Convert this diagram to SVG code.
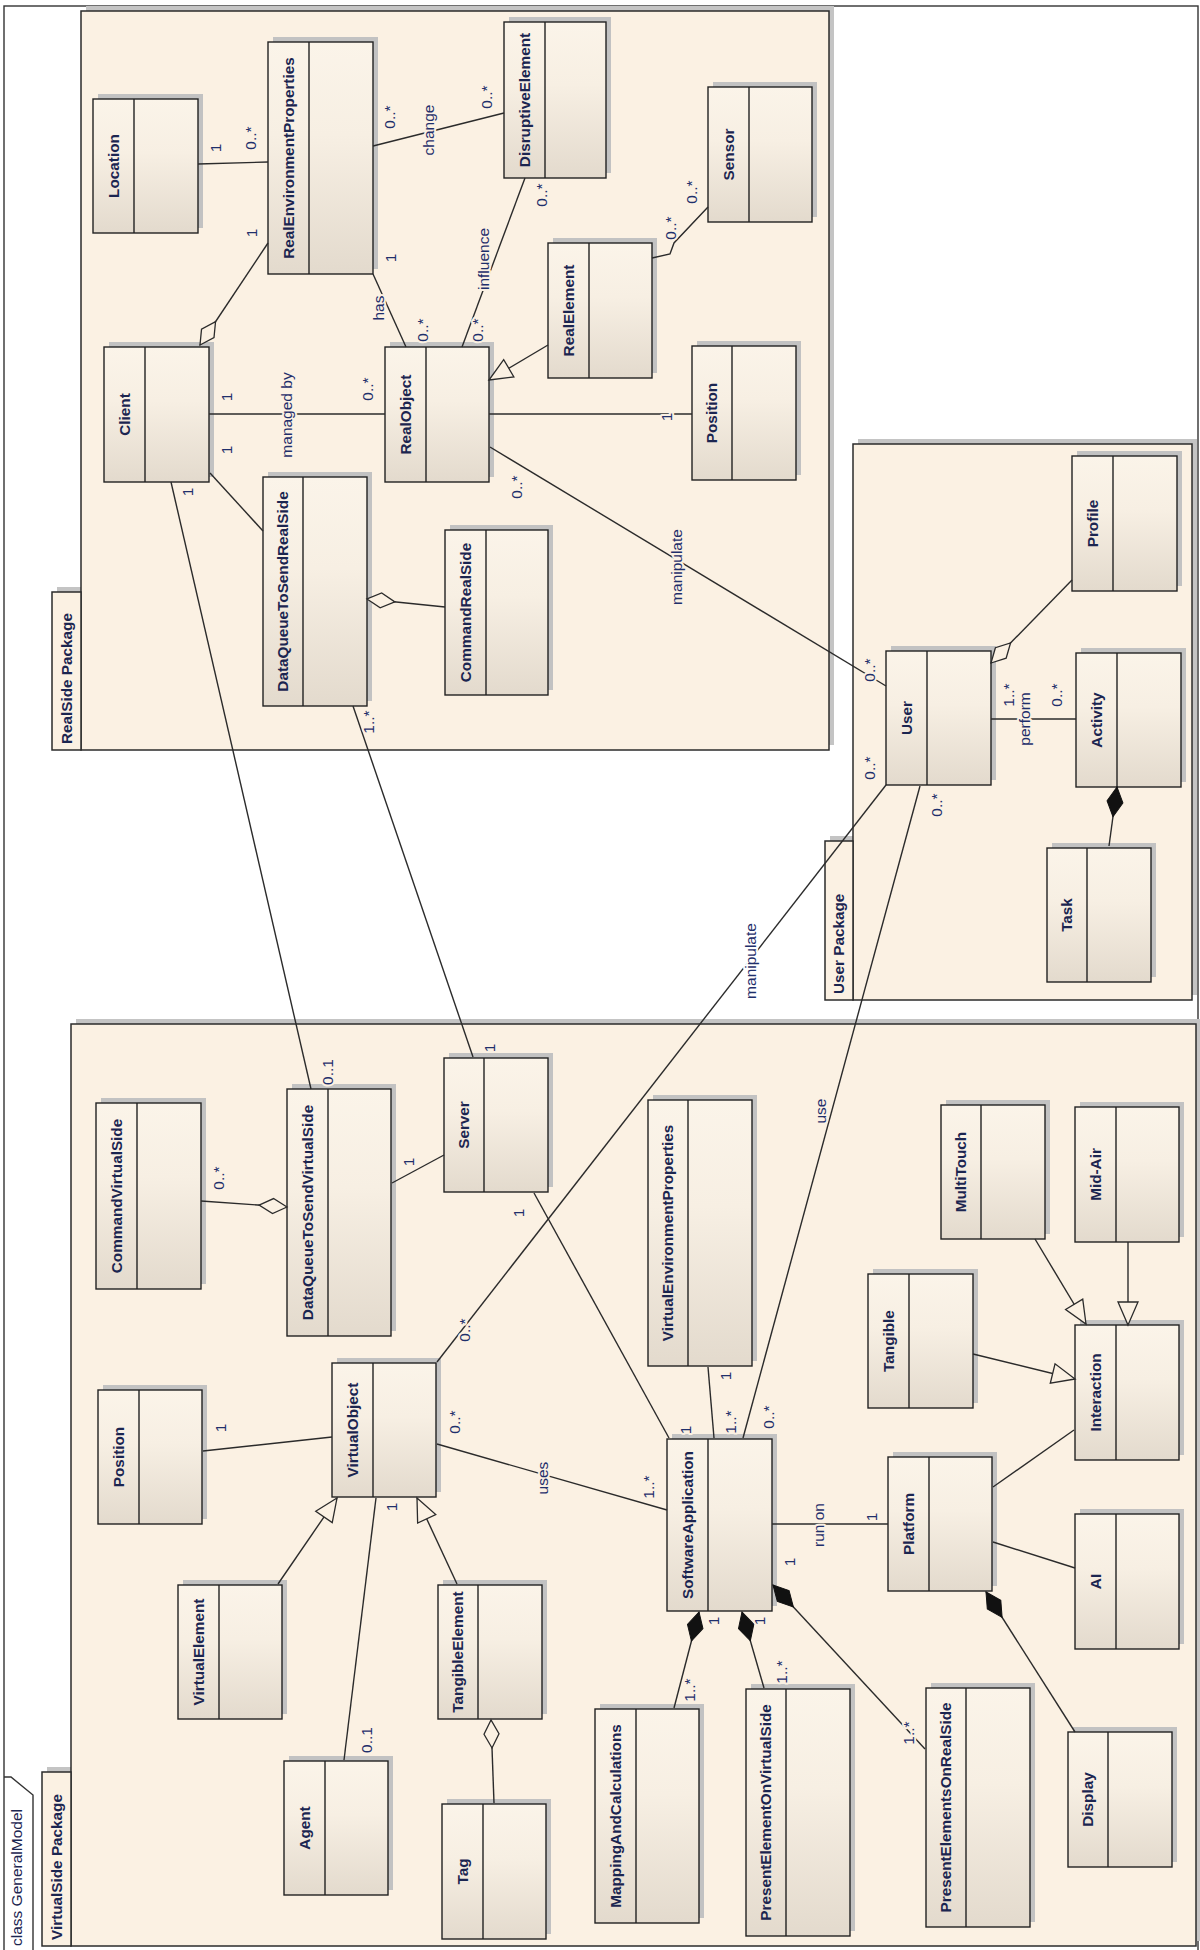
<svg xmlns="http://www.w3.org/2000/svg" width="1200" height="1950" viewBox="0 0 1200 1950">
<defs>
<linearGradient id="gb" x1="0" y1="0" x2="0" y2="1">
<stop offset="0" stop-color="#fbf4e9"/><stop offset="0.4" stop-color="#f7efe3"/><stop offset="1" stop-color="#e3dacd"/>
</linearGradient>
<marker id="gen" markerUnits="userSpaceOnUse" markerWidth="30" markerHeight="30" refX="0" refY="0" orient="auto" style="overflow:visible"><path d="M0,0 L-23,-10 L-23,10 Z" fill="#fbf1e3" stroke="#2b2b2b" stroke-width="1.3"/></marker>
<marker id="agg" markerUnits="userSpaceOnUse" markerWidth="30" markerHeight="30" refX="0" refY="0" orient="auto" style="overflow:visible"><path d="M0,0 L-14,-7.5 L-28,0 L-14,7.5 Z" fill="#fbf1e3" stroke="#2b2b2b" stroke-width="1.3"/></marker>
<marker id="comp" markerUnits="userSpaceOnUse" markerWidth="30" markerHeight="30" refX="0" refY="0" orient="auto" style="overflow:visible"><path d="M0,0 L-15,-8 L-30,0 L-15,8 Z" fill="#111" stroke="#111" stroke-width="1"/></marker>
</defs>
<style>
.frame{fill:#fff;stroke:#333;stroke-width:1.4}
.pk{fill:#fbf1e3;stroke:#2b2b2b;stroke-width:1.5}
.psh{fill:#c4c4c4}
.sh{fill:#c2c2c2}
.bx{fill:url(#gb);stroke:#222;stroke-width:1.4}
.dv{stroke:#222;stroke-width:1.4}
.nm{font-family:"Liberation Sans",Arial,sans-serif;font-size:15.3px;font-weight:bold;fill:#1b2550;text-anchor:middle}
.pt{font-family:"Liberation Sans",Arial,sans-serif;font-size:15.3px;font-weight:bold;fill:#1b2550;text-anchor:start}
.ft{font-family:"Liberation Sans",Arial,sans-serif;font-size:15.5px;fill:#1b2550;text-anchor:start}
.lb{font-family:"Liberation Sans",Arial,sans-serif;font-size:15.5px;fill:#1f2f6b;text-anchor:middle;stroke:#fbf1e3;stroke-width:4;stroke-linejoin:round;paint-order:stroke}
.lbw{stroke:#ffffff}
.cn{fill:none;stroke:#2b2b2b;stroke-width:1.4}
</style>

<!-- outer frame -->
<g id="frame">
<rect class="frame" x="4" y="6" width="1194" height="1960"/>
<polyline points="4,1777 11,1777 33,1795 33,1960" fill="none" stroke="#333" stroke-width="1.4"/>
<text class="ft" transform="translate(17,1946) rotate(-90)" dy="0.35em">class GeneralModel</text>
</g>

<!-- packages -->
<g id="pkg-realside">
<rect class="psh" x="86" y="6" width="748" height="739"/>
<rect class="psh" x="57" y="587" width="29" height="158"/>
<rect class="pk" x="81" y="11" width="748" height="739"/>
<rect class="pk" x="52" y="592" width="29" height="158"/>
<text class="pt" transform="translate(67,744) rotate(-90)" dy="0.35em">RealSide Package</text>
</g>
<g id="pkg-user">
<rect class="psh" x="858" y="439" width="339" height="556"/>
<rect class="psh" x="830" y="836" width="28" height="159"/>
<rect class="pk" x="853" y="444" width="339" height="556"/>
<rect class="pk" x="825" y="841" width="28" height="159"/>
<text class="pt" transform="translate(839,994) rotate(-90)" dy="0.35em">User Package</text>
</g>
<g id="pkg-virtualside">
<rect class="psh" x="76" y="1019" width="1125" height="922"/>
<rect class="psh" x="47" y="1767" width="29" height="174"/>
<rect class="pk" x="71" y="1024" width="1125" height="922"/>
<rect class="pk" x="42" y="1772" width="29" height="174"/>
<text class="pt" transform="translate(57,1940) rotate(-90)" dy="0.35em">VirtualSide Package</text>
</g>

<!-- nodes -->
<g id="n-location"><rect class="sh" x="98" y="94" width="105" height="134"/><rect class="bx" x="93" y="99" width="105" height="134"/><line class="dv" x1="134" y1="99" x2="134" y2="233"/><text class="nm" transform="translate(113.5,166) rotate(-90)" dy="0.35em">Location</text></g>
<g id="n-realenvironmentproperties"><rect class="sh" x="273" y="37" width="105" height="232"/><rect class="bx" x="268" y="42" width="105" height="232"/><line class="dv" x1="309" y1="42" x2="309" y2="274"/><text class="nm" transform="translate(288.5,158) rotate(-90)" dy="0.35em">RealEnvironmentProperties</text></g>
<g id="n-disruptiveelement"><rect class="sh" x="509" y="17" width="102" height="156"/><rect class="bx" x="504" y="22" width="102" height="156"/><line class="dv" x1="545" y1="22" x2="545" y2="178"/><text class="nm" transform="translate(524.5,100) rotate(-90)" dy="0.35em">DisruptiveElement</text></g>
<g id="n-sensor"><rect class="sh" x="713" y="82" width="104" height="135"/><rect class="bx" x="708" y="87" width="104" height="135"/><line class="dv" x1="749" y1="87" x2="749" y2="222"/><text class="nm" transform="translate(728.5,154.5) rotate(-90)" dy="0.35em">Sensor</text></g>
<g id="n-realelement"><rect class="sh" x="553" y="238" width="104" height="135"/><rect class="bx" x="548" y="243" width="104" height="135"/><line class="dv" x1="589" y1="243" x2="589" y2="378"/><text class="nm" transform="translate(568.5,310.5) rotate(-90)" dy="0.35em">RealElement</text></g>
<g id="n-position-real"><rect class="sh" x="697" y="341" width="104" height="134"/><rect class="bx" x="692" y="346" width="104" height="134"/><line class="dv" x1="732" y1="346" x2="732" y2="480"/><text class="nm" transform="translate(712,413) rotate(-90)" dy="0.35em">Position</text></g>
<g id="n-realobject"><rect class="sh" x="390" y="342" width="104" height="135"/><rect class="bx" x="385" y="347" width="104" height="135"/><line class="dv" x1="426" y1="347" x2="426" y2="482"/><text class="nm" transform="translate(405.5,414.5) rotate(-90)" dy="0.35em">RealObject</text></g>
<g id="n-client"><rect class="sh" x="109" y="342" width="105" height="135"/><rect class="bx" x="104" y="347" width="105" height="135"/><line class="dv" x1="145" y1="347" x2="145" y2="482"/><text class="nm" transform="translate(124.5,414.5) rotate(-90)" dy="0.35em">Client</text></g>
<g id="n-dataqueuetosendrealside"><rect class="sh" x="268" y="472" width="104" height="229"/><rect class="bx" x="263" y="477" width="104" height="229"/><line class="dv" x1="303" y1="477" x2="303" y2="706"/><text class="nm" transform="translate(283,591.5) rotate(-90)" dy="0.35em">DataQueueToSendRealSide</text></g>
<g id="n-commandrealside"><rect class="sh" x="450" y="525" width="103" height="165"/><rect class="bx" x="445" y="530" width="103" height="165"/><line class="dv" x1="486" y1="530" x2="486" y2="695"/><text class="nm" transform="translate(465.5,612.5) rotate(-90)" dy="0.35em">CommandRealSide</text></g>

<g id="n-user"><rect class="sh" x="891" y="646" width="105" height="134"/><rect class="bx" x="886" y="651" width="105" height="134"/><line class="dv" x1="927" y1="651" x2="927" y2="785"/><text class="nm" transform="translate(906.5,718) rotate(-90)" dy="0.35em">User</text></g>
<g id="n-profile"><rect class="sh" x="1077" y="451" width="105" height="135"/><rect class="bx" x="1072" y="456" width="105" height="135"/><line class="dv" x1="1113" y1="456" x2="1113" y2="591"/><text class="nm" transform="translate(1092.5,523.5) rotate(-90)" dy="0.35em">Profile</text></g>
<g id="n-activity"><rect class="sh" x="1081" y="648" width="105" height="134"/><rect class="bx" x="1076" y="653" width="105" height="134"/><line class="dv" x1="1117" y1="653" x2="1117" y2="787"/><text class="nm" transform="translate(1096.5,720) rotate(-90)" dy="0.35em">Activity</text></g>
<g id="n-task"><rect class="sh" x="1052" y="843" width="104" height="134"/><rect class="bx" x="1047" y="848" width="104" height="134"/><line class="dv" x1="1087" y1="848" x2="1087" y2="982"/><text class="nm" transform="translate(1067,915) rotate(-90)" dy="0.35em">Task</text></g>

<g id="n-commandvirtualside"><rect class="sh" x="101" y="1098" width="105" height="186"/><rect class="bx" x="96" y="1103" width="105" height="186"/><line class="dv" x1="137" y1="1103" x2="137" y2="1289"/><text class="nm" transform="translate(116.5,1196) rotate(-90)" dy="0.35em">CommandVirtualSide</text></g>
<g id="n-dataqueuetosendvirtualside"><rect class="sh" x="292" y="1084" width="104" height="247"/><rect class="bx" x="287" y="1089" width="104" height="247"/><line class="dv" x1="328" y1="1089" x2="328" y2="1336"/><text class="nm" transform="translate(307.5,1212.5) rotate(-90)" dy="0.35em">DataQueueToSendVirtualSide</text></g>
<g id="n-server"><rect class="sh" x="449" y="1053" width="104" height="134"/><rect class="bx" x="444" y="1058" width="104" height="134"/><line class="dv" x1="484" y1="1058" x2="484" y2="1192"/><text class="nm" transform="translate(464,1125) rotate(-90)" dy="0.35em">Server</text></g>
<g id="n-position-virtual"><rect class="sh" x="103" y="1385" width="104" height="134"/><rect class="bx" x="98" y="1390" width="104" height="134"/><line class="dv" x1="139" y1="1390" x2="139" y2="1524"/><text class="nm" transform="translate(118.5,1457) rotate(-90)" dy="0.35em">Position</text></g>
<g id="n-virtualobject"><rect class="sh" x="337" y="1358" width="104" height="134"/><rect class="bx" x="332" y="1363" width="104" height="134"/><line class="dv" x1="373" y1="1363" x2="373" y2="1497"/><text class="nm" transform="translate(352.5,1430) rotate(-90)" dy="0.35em">VirtualObject</text></g>
<g id="n-virtualelement"><rect class="sh" x="183" y="1580" width="104" height="134"/><rect class="bx" x="178" y="1585" width="104" height="134"/><line class="dv" x1="219" y1="1585" x2="219" y2="1719"/><text class="nm" transform="translate(198.5,1652) rotate(-90)" dy="0.35em">VirtualElement</text></g>
<g id="n-agent"><rect class="sh" x="289" y="1756" width="104" height="134"/><rect class="bx" x="284" y="1761" width="104" height="134"/><line class="dv" x1="325" y1="1761" x2="325" y2="1895"/><text class="nm" transform="translate(304.5,1828) rotate(-90)" dy="0.35em">Agent</text></g>
<g id="n-tangibleelement"><rect class="sh" x="443" y="1580" width="104" height="134"/><rect class="bx" x="438" y="1585" width="104" height="134"/><line class="dv" x1="478" y1="1585" x2="478" y2="1719"/><text class="nm" transform="translate(458,1652) rotate(-90)" dy="0.35em">TangibleElement</text></g>
<g id="n-tag"><rect class="sh" x="447" y="1799" width="104" height="135"/><rect class="bx" x="442" y="1804" width="104" height="135"/><line class="dv" x1="483" y1="1804" x2="483" y2="1939"/><text class="nm" transform="translate(462.5,1871.5) rotate(-90)" dy="0.35em">Tag</text></g>
<g id="n-virtualenvironmentproperties"><rect class="sh" x="653" y="1095" width="104" height="266"/><rect class="bx" x="648" y="1100" width="104" height="266"/><line class="dv" x1="688" y1="1100" x2="688" y2="1366"/><text class="nm" transform="translate(668,1233) rotate(-90)" dy="0.35em">VirtualEnvironmentProperties</text></g>
<g id="n-multitouch"><rect class="sh" x="946" y="1100" width="104" height="134"/><rect class="bx" x="941" y="1105" width="104" height="134"/><line class="dv" x1="981" y1="1105" x2="981" y2="1239"/><text class="nm" transform="translate(961,1172) rotate(-90)" dy="0.35em">MultiTouch</text></g>
<g id="n-midair"><rect class="sh" x="1080" y="1102" width="104" height="135"/><rect class="bx" x="1075" y="1107" width="104" height="135"/><line class="dv" x1="1116" y1="1107" x2="1116" y2="1242"/><text class="nm" transform="translate(1095.5,1174.5) rotate(-90)" dy="0.35em">Mid-Air</text></g>
<g id="n-tangible"><rect class="sh" x="873" y="1269" width="105" height="134"/><rect class="bx" x="868" y="1274" width="105" height="134"/><line class="dv" x1="909" y1="1274" x2="909" y2="1408"/><text class="nm" transform="translate(888.5,1341) rotate(-90)" dy="0.35em">Tangible</text></g>
<g id="n-interaction"><rect class="sh" x="1080" y="1320" width="104" height="135"/><rect class="bx" x="1075" y="1325" width="104" height="135"/><line class="dv" x1="1116" y1="1325" x2="1116" y2="1460"/><text class="nm" transform="translate(1095.5,1392.5) rotate(-90)" dy="0.35em">Interaction</text></g>
<g id="n-softwareapplication"><rect class="sh" x="672" y="1434" width="105" height="172"/><rect class="bx" x="667" y="1439" width="105" height="172"/><line class="dv" x1="708" y1="1439" x2="708" y2="1611"/><text class="nm" transform="translate(687.5,1525) rotate(-90)" dy="0.35em">SoftwareApplication</text></g>
<g id="n-platform"><rect class="sh" x="893" y="1452" width="104" height="134"/><rect class="bx" x="888" y="1457" width="104" height="134"/><line class="dv" x1="929" y1="1457" x2="929" y2="1591"/><text class="nm" transform="translate(908.5,1524) rotate(-90)" dy="0.35em">Platform</text></g>
<g id="n-ai"><rect class="sh" x="1080" y="1509" width="104" height="135"/><rect class="bx" x="1075" y="1514" width="104" height="135"/><line class="dv" x1="1116" y1="1514" x2="1116" y2="1649"/><text class="nm" transform="translate(1095.5,1581.5) rotate(-90)" dy="0.35em">AI</text></g>
<g id="n-mappingandcalculations"><rect class="sh" x="600" y="1704" width="104" height="214"/><rect class="bx" x="595" y="1709" width="104" height="214"/><line class="dv" x1="636" y1="1709" x2="636" y2="1923"/><text class="nm" transform="translate(615.5,1816) rotate(-90)" dy="0.35em">MappingAndCalculations</text></g>
<g id="n-presentelementonvirtualside"><rect class="sh" x="751" y="1684" width="104" height="247"/><rect class="bx" x="746" y="1689" width="104" height="247"/><line class="dv" x1="786" y1="1689" x2="786" y2="1936"/><text class="nm" transform="translate(766,1812.5) rotate(-90)" dy="0.35em">PresentElementOnVirtualSide</text></g>
<g id="n-presentelementsonrealside"><rect class="sh" x="931" y="1683" width="104" height="239"/><rect class="bx" x="926" y="1688" width="104" height="239"/><line class="dv" x1="966" y1="1688" x2="966" y2="1927"/><text class="nm" transform="translate(946,1807.5) rotate(-90)" dy="0.35em">PresentElementsOnRealSide</text></g>
<g id="n-display"><rect class="sh" x="1073" y="1727" width="104" height="135"/><rect class="bx" x="1068" y="1732" width="104" height="135"/><line class="dv" x1="1108" y1="1732" x2="1108" y2="1867"/><text class="nm" transform="translate(1088,1799.5) rotate(-90)" dy="0.35em">Display</text></g>

<!-- connectors -->
<g id="connectors" class="cn">
<line x1="198" y1="164" x2="268" y2="162"/>
<line x1="268" y1="243" x2="200" y2="345" marker-end="url(#agg)"/>
<line x1="373" y1="146" x2="504" y2="113"/>
<line x1="373" y1="274" x2="406" y2="347"/>
<line x1="525" y1="178" x2="462" y2="347"/>
<line x1="209" y1="414" x2="385" y2="414"/>
<line x1="210" y1="473" x2="263" y2="531"/>
<line x1="548" y1="345" x2="489" y2="380" marker-end="url(#gen)"/>
<polyline points="652,258 670,254 674,243 708,207"/>
<line x1="489" y1="414" x2="692" y2="414"/>
<line x1="490" y1="447" x2="886" y2="686"/>
<line x1="445" y1="607" x2="367" y2="599" marker-end="url(#agg)"/>
<line x1="1072" y1="580" x2="991" y2="663" marker-end="url(#agg)"/>
<line x1="991" y1="719" x2="1076" y2="719"/>
<line x1="1109" y1="846" x2="1117" y2="787" marker-end="url(#comp)"/>
<line x1="171" y1="482" x2="311" y2="1089"/>
<line x1="353" y1="706" x2="473" y2="1057"/>
<line x1="886" y1="785" x2="437" y2="1362"/>
<line x1="920" y1="786" x2="743" y2="1438"/>
<line x1="201" y1="1201" x2="287" y2="1207" marker-end="url(#agg)"/>
<line x1="392" y1="1183" x2="444" y2="1155"/>
<line x1="534" y1="1193" x2="669" y2="1438"/>
<line x1="203" y1="1451" x2="332" y2="1437"/>
<line x1="437" y1="1444" x2="667" y2="1510"/>
<line x1="278" y1="1584" x2="337" y2="1498" marker-end="url(#gen)"/>
<line x1="344" y1="1760" x2="376" y2="1498"/>
<line x1="457" y1="1584" x2="417" y2="1498" marker-end="url(#gen)"/>
<line x1="494" y1="1803" x2="491" y2="1720" marker-end="url(#agg)"/>
<line x1="708" y1="1367" x2="714" y2="1438"/>
<line x1="772" y1="1524" x2="888" y2="1524"/>
<line x1="674" y1="1708" x2="699" y2="1612" marker-end="url(#comp)"/>
<line x1="764" y1="1688" x2="742" y2="1612" marker-end="url(#comp)"/>
<line x1="925" y1="1749" x2="773" y2="1585" marker-end="url(#comp)"/>
<line x1="1075" y1="1732" x2="986" y2="1592" marker-end="url(#comp)"/>
<line x1="993" y1="1542" x2="1075" y2="1568"/>
<line x1="993" y1="1487" x2="1074" y2="1430"/>
<line x1="1035" y1="1239" x2="1086" y2="1324" marker-end="url(#gen)"/>
<line x1="1128" y1="1242" x2="1128" y2="1325" marker-end="url(#gen)"/>
<line x1="973" y1="1354" x2="1075" y2="1379" marker-end="url(#gen)"/>
</g>

<!-- connector labels -->
<g id="connector-labels">
<text class="lb" transform="translate(216,148) rotate(-90)" dy="0.35em">1</text>
<text class="lb" transform="translate(251,138) rotate(-90)" dy="0.35em">0..*</text>
<text class="lb" transform="translate(252,233) rotate(-90)" dy="0.35em">1</text>
<text class="lb" transform="translate(390,117) rotate(-90)" dy="0.35em">0..*</text>
<text class="lb" transform="translate(429,130) rotate(-90)" dy="0.35em">change</text>
<text class="lb" transform="translate(487,97) rotate(-90)" dy="0.35em">0..*</text>
<text class="lb" transform="translate(391,258) rotate(-90)" dy="0.35em">1</text>
<text class="lb" transform="translate(379,308) rotate(-90)" dy="0.35em">has</text>
<text class="lb" transform="translate(423,330) rotate(-90)" dy="0.35em">0..*</text>
<text class="lb" transform="translate(542,195) rotate(-90)" dy="0.35em">0..*</text>
<text class="lb" transform="translate(484,259) rotate(-90)" dy="0.35em">influence</text>
<text class="lb" transform="translate(478,330) rotate(-90)" dy="0.35em">0..*</text>
<text class="lb" transform="translate(692,192) rotate(-90)" dy="0.35em">0..*</text>
<text class="lb" transform="translate(671,228) rotate(-90)" dy="0.35em">0..*</text>
<text class="lb" transform="translate(667,417) rotate(-90)" dy="0.35em">1</text>
<text class="lb" transform="translate(227,397) rotate(-90)" dy="0.35em">1</text>
<text class="lb" transform="translate(287,415) rotate(-90)" dy="0.35em">managed by</text>
<text class="lb" transform="translate(368,389) rotate(-90)" dy="0.35em">0..*</text>
<text class="lb" transform="translate(227,450) rotate(-90)" dy="0.35em">1</text>
<text class="lb" transform="translate(517,487) rotate(-90)" dy="0.35em">0..*</text>
<text class="lb" transform="translate(677,567) rotate(-90)" dy="0.35em">manipulate</text>
<text class="lb" transform="translate(188,492) rotate(-90)" dy="0.35em">1</text>
<text class="lb" transform="translate(369,722) rotate(-90)" dy="0.35em">1..*</text>
<text class="lb" transform="translate(870,670) rotate(-90)" dy="0.35em">0..*</text>
<text class="lb" transform="translate(1009,695) rotate(-90)" dy="0.35em">1..*</text>
<text class="lb" transform="translate(1025,719) rotate(-90)" dy="0.35em">perform</text>
<text class="lb" transform="translate(1057,695) rotate(-90)" dy="0.35em">0..*</text>
<text class="lb" transform="translate(870,768) rotate(-90)" dy="0.35em">0..*</text>
<text class="lb" transform="translate(937,805) rotate(-90)" dy="0.35em">0..*</text>
<text class="lb lbw" transform="translate(751,961) rotate(-90)" dy="0.35em">manipulate</text>
<text class="lb" transform="translate(328,1072) rotate(-90)" dy="0.35em">0..1</text>
<text class="lb" transform="translate(490,1048) rotate(-90)" dy="0.35em">1</text>
<text class="lb" transform="translate(219,1178) rotate(-90)" dy="0.35em">0..*</text>
<text class="lb" transform="translate(409,1162) rotate(-90)" dy="0.35em">1</text>
<text class="lb" transform="translate(519,1213) rotate(-90)" dy="0.35em">1</text>
<text class="lb" transform="translate(465,1330) rotate(-90)" dy="0.35em">0..*</text>
<text class="lb" transform="translate(221,1428) rotate(-90)" dy="0.35em">1</text>
<text class="lb" transform="translate(455,1422) rotate(-90)" dy="0.35em">0..*</text>
<text class="lb" transform="translate(543,1478) rotate(-90)" dy="0.35em">uses</text>
<text class="lb" transform="translate(821,1111) rotate(-90)" dy="0.35em">use</text>
<text class="lb" transform="translate(726,1376) rotate(-90)" dy="0.35em">1</text>
<text class="lb" transform="translate(686,1430) rotate(-90)" dy="0.35em">1</text>
<text class="lb" transform="translate(731,1422) rotate(-90)" dy="0.35em">1..*</text>
<text class="lb" transform="translate(769,1417) rotate(-90)" dy="0.35em">0..*</text>
<text class="lb" transform="translate(649,1487) rotate(-90)" dy="0.35em">1..*</text>
<text class="lb" transform="translate(392,1507) rotate(-90)" dy="0.35em">1</text>
<text class="lb" transform="translate(367,1740) rotate(-90)" dy="0.35em">0..1</text>
<text class="lb" transform="translate(819,1525) rotate(-90)" dy="0.35em">run on</text>
<text class="lb" transform="translate(872,1517) rotate(-90)" dy="0.35em">1</text>
<text class="lb" transform="translate(790,1562) rotate(-90)" dy="0.35em">1</text>
<text class="lb" transform="translate(714,1621) rotate(-90)" dy="0.35em">1</text>
<text class="lb" transform="translate(760,1621) rotate(-90)" dy="0.35em">1</text>
<text class="lb" transform="translate(690,1690) rotate(-90)" dy="0.35em">1..*</text>
<text class="lb" transform="translate(782,1672) rotate(-90)" dy="0.35em">1..*</text>
<text class="lb" transform="translate(909,1733) rotate(-90)" dy="0.35em">1..*</text>
</g>
</svg>
